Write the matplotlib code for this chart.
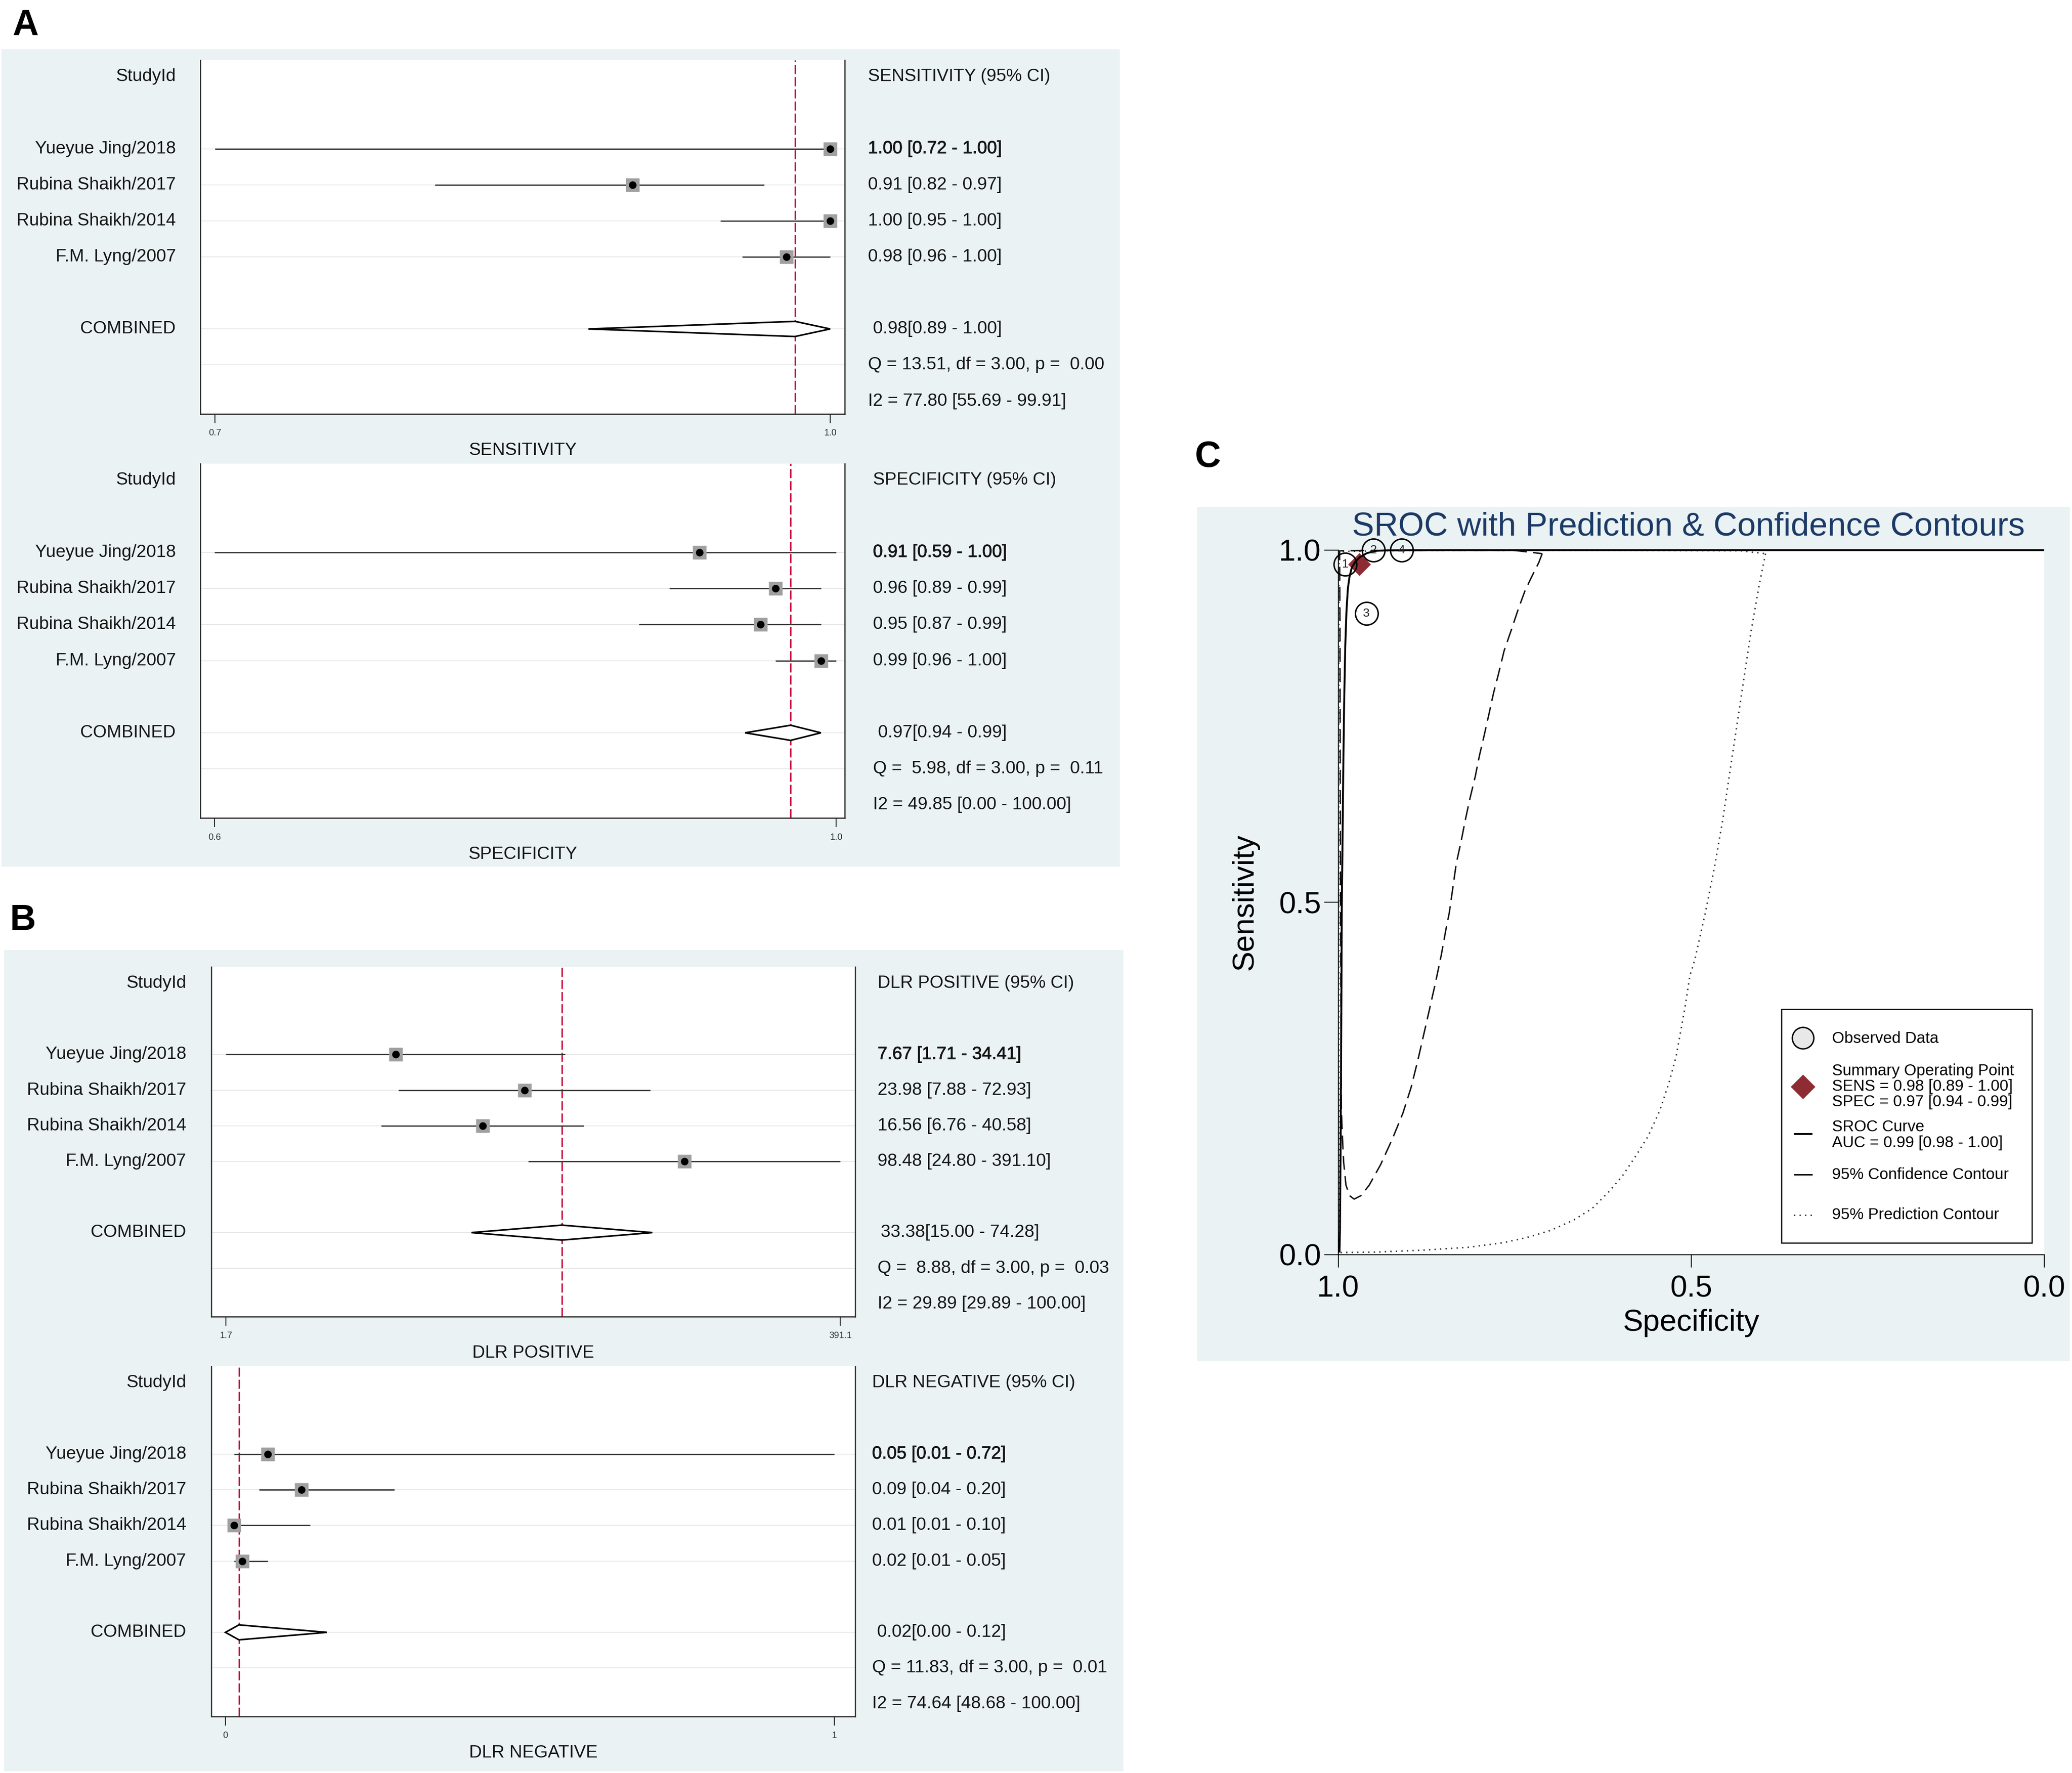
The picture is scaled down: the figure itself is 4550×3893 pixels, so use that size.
import matplotlib
matplotlib.use('Agg')
import matplotlib.pyplot as plt
from matplotlib.patches import Rectangle, Polygon
import matplotlib.patheffects as pe
from matplotlib.ticker import NullLocator
import numpy as np

# ---------------- data ----------------
studies = ["Yueyue Jing/2018", "Rubina Shaikh/2017", "Rubina Shaikh/2014", "F.M. Lyng/2007"]

sens_est = [1.00, 0.91, 1.00, 0.98]
sens_lo = [0.72, 0.82, 0.95, 0.96]
sens_hi = [1.00, 0.97, 1.00, 1.00]
sens_pooled = [0.984, 0.89, 1.00]
sens_q = "Q = 13.51, df = 3.00, p =  0.00"
sens_i2 = "I2 = 77.80 [55.69 - 99.91]"

spec_est = [0.91, 0.96, 0.95, 0.99]
spec_lo = [0.59, 0.89, 0.87, 0.96]
spec_hi = [1.00, 0.99, 0.99, 1.00]
spec_pooled = [0.97, 0.94, 0.99]
spec_q = "Q =  5.98, df = 3.00, p =  0.11"
spec_i2 = "I2 = 49.85 [0.00 - 100.00]"

dlrp_est = [7.67, 23.98, 16.56, 98.48]
dlrp_lo = [1.71, 7.88, 6.76, 24.80]
dlrp_hi = [34.41, 72.93, 40.58, 391.10]
dlrp_pooled = [33.38, 15.00, 74.28]
dlrp_q = "Q =  8.88, df = 3.00, p =  0.03"
dlrp_i2 = "I2 = 29.89 [29.89 - 100.00]"

dlrn_est = [0.05, 0.09, 0.01, 0.02]
dlrn_lo = [0.01, 0.04, 0.01, 0.01]
dlrn_hi = [0.72, 0.20, 0.10, 0.05]
dlrn_pooled = [0.016, 0.00, 0.12]
dlrn_q = "Q = 11.83, df = 3.00, p =  0.01"
dlrn_i2 = "I2 = 74.64 [48.68 - 100.00]"

# SROC study numbers (order as in studies list)
sroc_ids = [4, 3, 2, 1]
summary_point = [0.97, 0.98]   # spec, sens

sroc_spec = [0.9982, 0.9975, 0.9965, 0.9955, 0.9949, 0.9939, 0.9929, 0.9916, 0.9900,
             0.9883, 0.9863, 0.9840, 0.9807, 0.9758, 0.9692, 0.9594, 0.9462, 0.9297,
             0.85, 0.5, 0.0]
sroc_sens = [0.003, 0.0327, 0.1646, 0.3625, 0.497, 0.5828, 0.6817, 0.7807, 0.8632,
             0.9126, 0.9456, 0.962, 0.9753, 0.9835, 0.990, 0.9957, 0.999, 0.9997,
             1.0, 1.0, 1.0]

conf_spec = [0.711, 0.716, 0.726, 0.7355, 0.745, 0.755, 0.765, 0.773, 0.780, 0.7865,
             0.793, 0.800, 0.806, 0.813, 0.8195, 0.826, 0.8326, 0.8425, 0.8474, 0.854,
             0.8623, 0.8705, 0.8787, 0.887, 0.8968, 0.9083, 0.9231, 0.9396, 0.956,
             0.9676, 0.9774, 0.984, 0.989, 0.9923, 0.9939, 0.9955, 0.9968, 0.9975,
             0.998, 0.95, 0.85, 0.75, 0.711]
conf_sens = [0.995, 0.982, 0.962, 0.942, 0.916, 0.886, 0.857, 0.824, 0.797, 0.767,
             0.738, 0.708, 0.678, 0.649, 0.619, 0.586, 0.556, 0.486, 0.4614, 0.425,
             0.3855, 0.349, 0.313, 0.2767, 0.237, 0.2009, 0.1646, 0.1283, 0.0987,
             0.0838, 0.0788, 0.0838, 0.0987, 0.1316, 0.1646, 0.204, 0.5, 0.9,
             0.999, 0.9995, 0.9995, 0.9995, 0.995]

pred_spec = [0.3947, 0.4045, 0.416, 0.4259, 0.4358, 0.4457, 0.4555, 0.467, 0.4802,
             0.495, 0.5019, 0.5085, 0.515, 0.5216, 0.5315, 0.5446, 0.5611, 0.5775,
             0.5973, 0.6171, 0.6401, 0.6664, 0.6993, 0.7322, 0.7651, 0.8145, 0.8803,
             0.9462, 0.9988, 0.9992, 0.999, 0.9, 0.6, 0.43, 0.3947]
pred_sens = [0.995, 0.9457, 0.8796, 0.8137, 0.7477, 0.6817, 0.6158, 0.5498, 0.4839,
             0.4179, 0.3954, 0.3526, 0.3163, 0.28, 0.2437, 0.2041, 0.1679, 0.1415,
             0.1118, 0.0887, 0.0656, 0.0491, 0.0343, 0.0244, 0.0171, 0.0105, 0.0063,
             0.0036, 0.003, 0.5, 0.998, 0.9995, 0.9995, 0.999, 0.995]

legend_labels = ["Observed Data",
                 ["Summary Operating Point", "SENS = 0.98 [0.89 - 1.00]", "SPEC = 0.97 [0.94 - 0.99]"],
                 ["SROC Curve", "AUC = 0.99 [0.98 - 1.00]"],
                 "95% Confidence Contour",
                 "95% Prediction Contour"]

# ---------------- figure ----------------
W, H = 4550, 3893
DPI = 100
plt.rcParams['font.family'] = ['Liberation Sans', 'DejaVu Sans']
fig = plt.figure(figsize=(W / DPI, H / DPI), dpi=DPI)
fig.patch.set_facecolor('white')

BG = '#EAF2F3'
RED = '#C8123E'
TXT = '#151515'


def fx(x):
    return x / W


def fy(y):
    return 1 - y / H


def bg(x0, y0, x1, y1):
    fig.patches.append(Rectangle((fx(x0), fy(y1)), (x1 - x0) / W, (y1 - y0) / H,
                                 transform=fig.transFigure, facecolor=BG,
                                 edgecolor='none', zorder=-10))


bg(3, 108, 2459, 1903)
bg(9, 2086, 2467, 3889)
bg(2629, 1113, 4545, 2989)

for lab, x, y in [("A", 27, 77), ("B", 22, 2042), ("C", 2624, 1025)]:
    fig.text(fx(x), fy(y), lab, fontsize=57, fontweight='bold', ha='left',
             va='baseline', color='black')

ROW_TOP, ROW_BOT = -0.46, 9.36
FS = 28


def forest(g, est, lo, hi, pooled, header, title, qtxt, i2txt, tickfmt, log):
    left, right, top, bottom, tlo_px, thi_px, lab_x, txt_x, comb_x = g
    ax = fig.add_axes([fx(left), fy(bottom), (right - left) / W, (bottom - top) / H])
    ax.set_facecolor('white')
    t0 = min(lo + [pooled[1]])
    t1 = max(hi + [pooled[2]])
    if log:
        u0, u1 = np.log(t0), np.log(t1)
    else:
        u0, u1 = t0, t1
    k = (thi_px - tlo_px) / (u1 - u0)
    xmin = u0 - (tlo_px - left) / k
    xmax = u1 + (right - thi_px) / k
    if log:
        ax.set_xscale('log')
        ax.set_xlim(np.exp(xmin), np.exp(xmax))
    else:
        ax.set_xlim(xmin, xmax)
    ax.set_ylim(ROW_BOT, ROW_TOP)
    rows = [2, 3, 4, 5]
    for r in [2, 3, 4, 5, 7, 8]:
        ax.axhline(r, color='#E8E8E8', lw=1.4, zorder=1)
    ax.axvline(pooled[0], color=RED, lw=2.4, dashes=(6.0, 2.0), zorder=2)
    ax.hlines(rows, lo, hi, color='#333333', lw=2.0, zorder=3)
    ax.plot(est, rows, 's', ms=21, color='#A0A0A0', mec='none', zorder=4, clip_on=False)
    ax.plot(est, rows, 'o', ms=12, color='black', mec='none', zorder=5, clip_on=False)
    d = 0.21
    ax.add_patch(Polygon([(pooled[1], 7), (pooled[0], 7 - d), (pooled[2], 7),
                          (pooled[0], 7 + d)], closed=True, fc='white', ec='black',
                         lw=2.5, zorder=4, joinstyle='miter'))
    for s in ['left', 'right', 'bottom']:
        ax.spines[s].set_linewidth(1.8)
        ax.spines[s].set_color('#222222')
    ax.spines['top'].set_visible(False)
    ax.set_yticks([])
    ax.set_xticks([t0, t1])
    ax.set_xticklabels([tickfmt % t0, tickfmt % t1], fontsize=14.5, color='#333333')
    ax.xaxis.set_minor_locator(NullLocator())
    ax.tick_params(axis='x', length=14.4, width=1.5, pad=9, color='#222222')

    def rowy(r):
        return top + (r - ROW_TOP) * (bottom - top) / (ROW_BOT - ROW_TOP)

    fig.text(fx(lab_x), fy(rowy(0)), "StudyId", ha='right', va='center', fontsize=FS, color=TXT)
    fig.text(fx(txt_x), fy(rowy(0)), header, ha='left', va='center', fontsize=FS, color=TXT)
    for i, (name, r) in enumerate(zip(studies, rows)):
        fig.text(fx(lab_x), fy(rowy(r)), name, ha='right', va='center', fontsize=FS, color=TXT)
        t = fig.text(fx(txt_x), fy(rowy(r)), "%.2f [%.2f - %.2f]" % (est[i], lo[i], hi[i]),
                     ha='left', va='center', fontsize=FS, color=TXT)
        if i == 0:
            t.set_path_effects([pe.withStroke(linewidth=0.7, foreground=TXT)])
    fig.text(fx(lab_x), fy(rowy(7)), "COMBINED", ha='right', va='center', fontsize=FS, color=TXT)
    fig.text(fx(comb_x), fy(rowy(7)), "%.2f[%.2f - %.2f]" % tuple(pooled),
             ha='left', va='center', fontsize=FS, color=TXT)
    fig.text(fx(txt_x), fy(rowy(8)), qtxt, ha='left', va='center', fontsize=FS, color=TXT)
    fig.text(fx(txt_x), fy(rowy(9)), i2txt, ha='left', va='center', fontsize=FS, color=TXT)
    fig.text(fx((left + right) / 2), fy(bottom + 80), title, ha='center', va='center',
             fontsize=FS, color=TXT)


# geometry: left, right, top, bottom, lo tick px, hi tick px, label x, text x, combined x
forest((440, 1855, 132, 909, 472, 1823, 386, 1906, 1917), sens_est, sens_lo, sens_hi,
       sens_pooled, "SENSITIVITY (95% CI)", "SENSITIVITY", sens_q, sens_i2, "%.1f", False)
forest((440, 1855, 1018, 1796, 471, 1836, 386, 1917, 1928), spec_est, spec_lo, spec_hi,
       spec_pooled, "SPECIFICITY (95% CI)", "SPECIFICITY", spec_q, spec_i2, "%.1f", False)
forest((464, 1878, 2123, 2891, 496, 1845, 409, 1927, 1934), dlrp_est, dlrp_lo, dlrp_hi,
       dlrp_pooled, "DLR POSITIVE (95% CI)", "DLR POSITIVE", dlrp_q, dlrp_i2, "%.1f", True)
forest((464, 1878, 3000, 3769, 495, 1832, 409, 1915, 1926), dlrn_est, dlrn_lo, dlrn_hi,
       dlrn_pooled, "DLR NEGATIVE (95% CI)", "DLR NEGATIVE", dlrn_q, dlrn_i2, "%.0f", False)

# ---------------- SROC ----------------
L, R, T, B = 2938.6, 4488.8, 1207.9, 2754.8
axc = fig.add_axes([fx(L), fy(B), (R - L) / W, (B - T) / H])
axc.set_facecolor('white')
axc.set_xlim(1, 0)
axc.set_ylim(0, 1)
for s in ['top', 'right']:
    axc.spines[s].set_visible(False)
for s in ['left', 'bottom']:
    axc.spines[s].set_linewidth(1.6)
    axc.spines[s].set_color('black')
axc.set_xticks([1.0, 0.5, 0.0])
axc.set_xticklabels(['1.0', '0.5', '0.0'], fontsize=48)
axc.set_yticks([0.0, 0.5, 1.0])
axc.set_yticklabels(['0.0', '0.5', '1.0'], fontsize=48)
axc.tick_params(axis='x', length=20, width=1.5, pad=12)
axc.tick_params(axis='y', length=22, width=1.5, pad=5)

axc.plot(pred_spec, pred_sens, color='#2E2E2E', lw=2.3, dashes=(0.9, 2.9), clip_on=False, zorder=3)
axc.plot(conf_spec, conf_sens, color='#111111', lw=2.2, dashes=(10.0, 4.6), clip_on=False, zorder=3)
axc.plot([summary_point[0]], [summary_point[1]], 'D', ms=25, color='#8E2C33', mec='none',
         clip_on=False, zorder=4)
axc.plot(sroc_spec, sroc_sens, color='black', lw=3.0, clip_on=False, zorder=5,
         solid_capstyle='butt')
axc.plot(spec_est, sens_est, 'o', ms=36, mfc='none', mec='black', mew=2.3, clip_on=False, zorder=6)
for sp, se, n in zip(spec_est, sens_est, sroc_ids):
    axc.text(sp, se, str(n), ha='center', va='center', fontsize=19, color='#222222', zorder=7)

fig.text(fx((L + R) / 2 - 6), fy(1157), "SROC with Prediction & Confidence Contours", ha='center',
         va='center', fontsize=52.5, color='#1C3A66')
fig.text(fx(2734), fy((T + B) / 2), "Sensitivity", rotation=90, ha='center', va='center', fontsize=48)
fig.text(fx((L + R) / 2), fy(2905), "Specificity", ha='center', va='center', fontsize=48)

# legend (manual)
tr = axc.transAxes
axc.add_patch(Rectangle((0.6277, 0.0166), 0.3548, 0.3314, transform=tr, fc='white',
                        ec='black', lw=1.8, zorder=8, clip_on=False))
LX, MX = 0.6997, 0.6585
LFS = 25
axc.plot([MX], [0.3075], 'o', ms=34, mfc='#E8E8E8', mec='black', mew=2.2, transform=tr,
         clip_on=False, zorder=9)
axc.text(LX, 0.3067, legend_labels[0], transform=tr, fontsize=LFS, va='center', ha='left', zorder=9)
axc.plot([MX], [0.2387], 'D', ms=27, color='#8E2C33', mec='none', transform=tr,
         clip_on=False, zorder=9)
for txt, yy in zip(legend_labels[1], [0.2605, 0.2385, 0.2168]):
    axc.text(LX, yy, txt, transform=tr, fontsize=LFS, va='center', ha='left', zorder=9)
axc.plot([0.6455, 0.6715], [0.1712, 0.1712], color='black', lw=3.0, transform=tr,
         clip_on=False, zorder=9, solid_capstyle='butt')
for txt, yy in zip(legend_labels[2], [0.1811, 0.1588]):
    axc.text(LX, yy, txt, transform=tr, fontsize=LFS, va='center', ha='left', zorder=9)
axc.plot([0.6455, 0.6715], [0.1138, 0.1138], color='black', lw=2.2, transform=tr,
         clip_on=False, zorder=9, solid_capstyle='butt')
axc.text(LX, 0.1131, legend_labels[3], transform=tr, fontsize=LFS, va='center', ha='left', zorder=9)
axc.plot([0.6455, 0.6715], [0.0562, 0.0562], color='#2E2E2E', lw=2.3, dashes=(0.9, 2.9),
         transform=tr, clip_on=False, zorder=9)
axc.text(LX, 0.0562, legend_labels[4], transform=tr, fontsize=LFS, va='center', ha='left', zorder=9)

fig.savefig('out.png', dpi=DPI, facecolor='white')
